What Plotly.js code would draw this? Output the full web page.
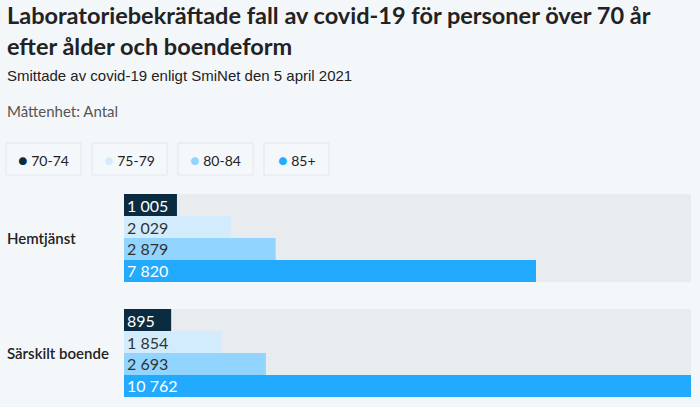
<!DOCTYPE html>
<html>
<head>
<meta charset="utf-8">
<script src="https://cdn.plot.ly/plotly-3.0.1.min.js"></script>
<style>
html,body{margin:0;padding:0;background:#f4f7fa;}
#chart{width:700px;height:407px;}
</style>
</head>
<body>
<div id="chart"></div>
<script>
const categories = ["Hemtjänst", "Särskilt boende"];
const seriesNames = ["70-74", "75-79", "80-84", "85+"];
const values7074 = [1005, 895];
const values7579 = [2029, 1854];
const values8084 = [2879, 2693];
const values85plus = [7820, 10762];
const seriesColors = ["#0a2b40", "#d3ecfd", "#91d4fe", "#22aafe"];
const labelColors = ["#ffffff", "#333333", "#333333", "#ffffff"];
const titleLines = ["Laboratoriebekräftade fall av covid-19 för personer över 70 år", "efter ålder och boendeform"];

const allSeries = [values7074, values7579, values8084, values85plus];
const maxVal = Math.max(...allSeries.flat());
const fmt = v => String(v).replace(/\B(?=(\d{3})+(?!\d))/g, " ");

const W = 700, H = 407;
const mL = 124, mR = 9, mT = 183, mB = 2;
const plotW = W - mL - mR;
const bargap = 0.235;
const FONT = "Lato, 'Open Sans', sans-serif";

const traces = allSeries.map((vals, i) => ({
  type: "bar",
  orientation: "h",
  name: seriesNames[i],
  y: categories,
  x: vals,
  marker: {color: seriesColors[i], line: {width: 0}},
  text: vals.map(fmt),
  textposition: "inside",
  insidetextanchor: "start",
  textfont: {family: FONT, size: 16, color: labelColors[i]},
  hoverinfo: "none",
  showlegend: false
}));

const shapes = categories.map((c, i) => ({
  type: "rect", xref: "paper", yref: "y", layer: "below",
  x0: 0, x1: 1, y0: i - (1 - bargap) / 2, y1: i + (1 - bargap) / 2,
  fillcolor: "#e9ecef", line: {width: 0}
}));

const px2x = px => (px - mL) / plotW;
const plotH = H - mT - mB;
const px2y = py => 1 - (py - mT) / plotH;

const annotations = [];
annotations.push({xref: "paper", yref: "paper", x: px2x(5), y: px2y(31), xanchor: "left", yanchor: "middle",
  align: "left", text: "<b>" + titleLines.join("<br>") + "</b>", showarrow: false,
  font: {family: FONT, size: 23.5, color: "#222222"}});
annotations.push({xref: "paper", yref: "paper", x: px2x(5), y: px2y(75), xanchor: "left", yanchor: "middle",
  text: "Smittade av covid-19 enligt SmiNet den 5 april 2021", showarrow: false,
  font: {family: "'Liberation Sans', Arial, sans-serif", size: 15, color: "#222222"}});
annotations.push({xref: "paper", yref: "paper", x: px2x(5), y: px2y(111), xanchor: "left", yanchor: "middle",
  text: "Måttenhet: Antal", showarrow: false,
  font: {family: FONT, size: 15, color: "#555555"}});
categories.forEach((c, i) => {
  annotations.push({xref: "paper", yref: "y", x: px2x(5), y: i, xanchor: "left", yanchor: "middle",
    text: c, showarrow: false, font: {family: FONT, size: 15, color: "#222222", weight: 600}});
});
const legBoxes = [[6, 81], [92, 167], [178, 253], [264, 329]];
seriesNames.forEach((n, i) => {
  const [a, b] = legBoxes[i];
  shapes.push({type: "rect", xref: "paper", yref: "paper",
    x0: px2x(a), x1: px2x(b), y0: px2y(175), y1: px2y(143),
    fillcolor: "#f5f8fb", line: {color: "#e2e6ea", width: 1}});
  annotations.push({xref: "paper", yref: "paper", x: px2x((a + b) / 2), y: px2y(159.5),
    xanchor: "center", yanchor: "middle", showarrow: false,
    text: '<span style="color:' + seriesColors[i] + ';font-size:16px">●</span> ' + n,
    font: {family: FONT, size: 14, color: "#222222"}});
});

const layout = {
  width: W, height: H,
  paper_bgcolor: "#f4f7fa", plot_bgcolor: "#f4f7fa",
  margin: {l: mL, r: mR, t: mT, b: mB},
  barmode: "group", bargap: bargap, bargroupgap: 0,
  xaxis: {range: [0, maxVal], visible: false, fixedrange: true},
  yaxis: {type: "category", range: [1 + (H - mB - 353) / 115, -(238 - mT) / 115],
    showticklabels: false, showgrid: false, zeroline: false, showline: false, fixedrange: true},
  uniformtext: {mode: "show", minsize: 16},
  shapes: shapes,
  annotations: annotations,
  showlegend: false
};

Plotly.newPlot("chart", traces, layout, {displayModeBar: false, staticPlot: true});
</script>
</body>
</html>
